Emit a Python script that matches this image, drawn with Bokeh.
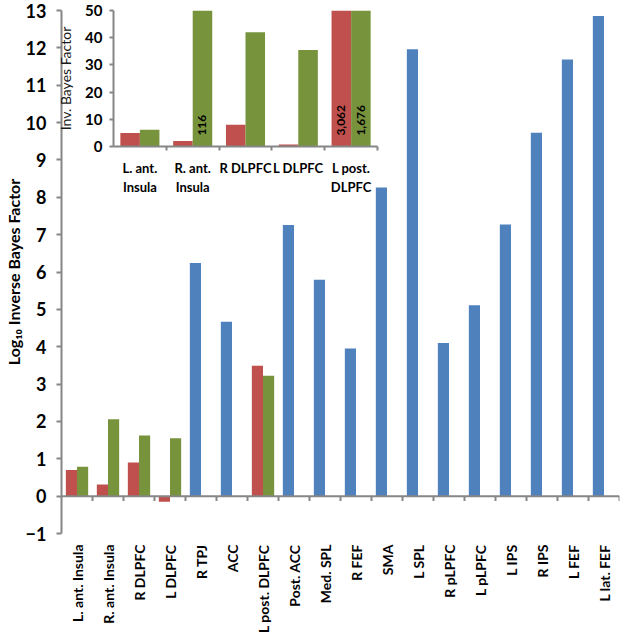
import math
import numpy as np
from bokeh.plotting import figure
from bokeh.models import Range1d, FixedTicker, Span
from bokeh.layouts import column
from bokeh.embed import file_html
from bokeh.resources import INLINE
from bokeh.core.properties import value

# ---------------- data ----------------
regions = ["L. ant. Insula", "R. ant. Insula", "R DLPFC", "L DLPFC", "R TPJ", "ACC",
           "L post. DLPFC", "Post. ACC", "Med. SPL", "R FEF", "SMA", "L SPL",
           "R pLPFC", "L pLPFC", "L IPS", "R IPS", "L FEF", "L lat. FEF"]

pair_regions = ["L. ant. Insula", "R. ant. Insula", "R DLPFC", "L DLPFC", "L post. DLPFC"]
red_log = [0.70, 0.31, 0.90, -0.15, 3.49]
green_log = [0.79, 2.06, 1.62, 1.55, 3.22]

blue_regions = ["R TPJ", "ACC", "Post. ACC", "Med. SPL", "R FEF", "SMA", "L SPL",
                "R pLPFC", "L pLPFC", "L IPS", "R IPS", "L FEF", "L lat. FEF"]
blue_log = [6.24, 4.67, 7.26, 5.79, 3.95, 8.26, 11.96, 4.10, 5.11, 7.27, 9.73, 11.69, 12.85]

y_ticks = list(range(-1, 14))

inset_labels = ["L. ant.\nInsula", "R. ant.\nInsula", "R DLPFC", "L DLPFC", "L post.\nDLPFC"]
inset_red = [5.0, 2.0, 8.0, 0.7, 3062]
inset_green = [6.2, 116, 42, 35.5, 1676]
inset_ticks = [0, 10, 20, 30, 40, 50]

# ---------------- styles ----------------
RED = "#C0504D"
GREEN = "#77933C"
BLUE = "#4F81BD"
AXIS = "#868686"
FONT = "Lato"
W = 0.36
OFF = 0.18

# ---------------- main chart ----------------
p = figure(width=624, height=639, x_range=Range1d(0, len(regions)),
           y_range=Range1d(y_ticks[0], y_ticks[-1]),
           output_backend="svg", toolbar_location=None,
           min_border_left=52, min_border_right=2, min_border_top=10, min_border_bottom=106)
p.outline_line_color = None
p.grid.visible = False

centers = [i + 0.5 for i in range(len(regions))]
pos = {r: c for r, c in zip(regions, centers)}

p.vbar(x=[pos[r] - OFF for r in pair_regions], top=red_log, bottom=0, width=W,
       fill_color=RED, line_color=None)
p.vbar(x=[pos[r] + OFF for r in pair_regions], top=green_log, bottom=0, width=W,
       fill_color=GREEN, line_color=None)
p.vbar(x=[pos[r] - OFF for r in blue_regions], top=blue_log, bottom=0, width=W,
       fill_color=BLUE, line_color=None)

# category axis line at zero with tick marks between categories
p.add_layout(Span(location=0, dimension="width", line_color=AXIS, line_width=2))
bounds = list(range(1, len(regions) + 1))
p.segment(x0=bounds, y0=[0] * len(bounds), x1=bounds, y1=[-0.13] * len(bounds),
          line_color=AXIS, line_width=2)

xa = p.xaxis[0]
xa.ticker = FixedTicker(ticks=centers)
xa.major_label_overrides = {c: r for c, r in zip(centers, regions)}
xa.major_label_orientation = math.pi / 2
xa.axis_line_color = None
xa.major_tick_line_color = None
xa.minor_tick_line_color = None
xa.major_tick_out = 0
xa.major_tick_in = 0
xa.major_label_standoff = 11
xa.major_label_text_font = FONT
xa.major_label_text_font_style = "bold"
xa.major_label_text_font_size = "14px"
xa.major_label_text_color = "#000000"

ya = p.yaxis[0]
ya.ticker = FixedTicker(ticks=y_ticks)
ya.axis_line_color = AXIS
ya.axis_line_width = 2
ya.major_tick_line_color = AXIS
ya.major_tick_line_width = 2
ya.major_tick_out = 5
ya.major_tick_in = 0
ya.minor_tick_line_color = None
ya.major_label_standoff = 10
ya.major_label_text_font = FONT
ya.major_label_text_font_style = "bold"
ya.major_label_text_font_size = "18px"
ya.major_label_text_color = "#000000"
ya.axis_label = "Log\u2081\u2080 Inverse Bayes Factor"
ya.axis_label_text_font = FONT
ya.axis_label_text_font_style = "bold"
ya.axis_label_text_font_size = "16px"
ya.axis_label_text_color = "#000000"
ya.axis_label_standoff = 0

# ---------------- inset ----------------
q = figure(width=330, height=197, x_range=Range1d(0, len(inset_labels)),
           y_range=Range1d(inset_ticks[0], inset_ticks[-1]),
           output_backend="svg", toolbar_location=None,
           min_border_left=55, min_border_right=5, min_border_top=10, min_border_bottom=47)
q.outline_line_color = None
q.grid.visible = False
q.background_fill_alpha = 0
q.border_fill_alpha = 0

icenters = [i + 0.5 for i in range(len(inset_labels))]
IOFF = 0.185
IW = 0.37
q.vbar(x=[c - IOFF for c in icenters], top=inset_red, bottom=0, width=IW,
       fill_color=RED, line_color=None)
q.vbar(x=[c + IOFF for c in icenters], top=inset_green, bottom=0, width=IW,
       fill_color=GREEN, line_color=None)

top_val = inset_ticks[-1]
lab_x, lab_t = [], []
for c, rv, gv in zip(icenters, inset_red, inset_green):
    if rv > top_val:
        lab_x.append(c - IOFF); lab_t.append(f"{rv:,}")
    if gv > top_val:
        lab_x.append(c + IOFF); lab_t.append(f"{gv:,}")
q.text(x=lab_x, y=[4] * len(lab_x), text=lab_t, angle=math.pi / 2,
       text_align="left", text_baseline="middle", text_font=value(FONT),
       text_font_style="bold", text_font_size="12px", text_color="#000000")

qx = q.xaxis[0]
qx.ticker = FixedTicker(ticks=icenters, minor_ticks=list(range(1, len(inset_labels) + 1)))
qx.major_label_overrides = {c: l for c, l in zip(icenters, inset_labels)}
qx.axis_line_color = AXIS
qx.axis_line_width = 2
qx.major_tick_line_color = None
qx.major_tick_out = 0
qx.major_tick_in = 0
qx.minor_tick_line_color = AXIS
qx.minor_tick_line_width = 2
qx.minor_tick_out = 4
qx.minor_tick_in = 0
qx.major_label_standoff = 9
qx.major_label_text_font = FONT
qx.major_label_text_font_style = "bold"
qx.major_label_text_font_size = "13px"
qx.major_label_text_color = "#000000"

qy = q.yaxis[0]
qy.ticker = FixedTicker(ticks=inset_ticks)
qy.axis_line_color = AXIS
qy.axis_line_width = 2
qy.major_tick_line_color = AXIS
qy.major_tick_line_width = 2
qy.major_tick_out = 4
qy.major_tick_in = 0
qy.minor_tick_line_color = None
qy.major_label_standoff = 7
qy.major_label_text_font = FONT
qy.major_label_text_font_style = "bold"
qy.major_label_text_font_size = "15px"
qy.major_label_text_color = "#000000"
qy.axis_label = "Inv. Bayes Factor"
qy.axis_label_text_font = FONT
qy.axis_label_text_font_style = "normal"
qy.axis_label_text_font_size = "14px"
qy.axis_label_text_color = "#1a1a1a"
qy.axis_label_standoff = 8

q.styles = {"position": "absolute", "left": "52px", "top": "0px"}
layout = column(p, q, styles={"position": "absolute", "left": "0px", "top": "0px"})

open("out.html", "w").write(file_html(layout, INLINE))
